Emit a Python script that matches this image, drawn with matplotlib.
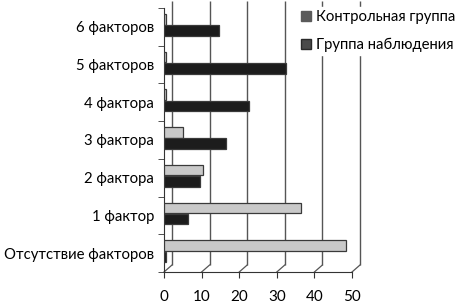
import matplotlib
matplotlib.use("Agg")
import matplotlib.pyplot as plt
from matplotlib.transforms import offset_copy
from matplotlib.patches import Patch
import numpy as np

plt.rcParams['font.family'] = ['Lato', 'DejaVu Sans']

categories = ["Отсутствие факторов", "1 фактор", "2 фактора", "3 фактора",
              "4 фактора", "5 факторов", "6 факторов"]
control = [48.5, 36.5, 10.5, 5, 0.4, 0.4, 0.4]
observed = [0.6, 6.5, 9.5, 16.5, 22.5, 32.5, 14.5]
series_names = ["Контрольная группа", "Группа наблюдения"]
xticks = [0, 10, 20, 30, 40, 50]

fig = plt.figure(figsize=(4.58, 3.03), dpi=100)
ax = fig.add_axes([164/458, 1 - 272/303, (352-164)/458, (272-8)/303])
ax.set_xlim(0, 50)
ax.set_ylim(-0.5, len(categories) - 0.5)

y = np.arange(len(categories))
h = 0.28
ax.barh(y + 0.2, control, height=h, color='#c9c9c9', edgecolor='#3a3a3a', linewidth=0.9, zorder=3)
ax.barh(y - 0.1, observed, height=h, color='#1c1c1c', edgecolor='#3a3a3a', linewidth=0.9, zorder=3)

# back-wall gridlines (3D offset)
back = offset_copy(ax.transData, fig=fig, x=8, y=7, units='dots')
ax.vlines(xticks, -0.5, len(categories) - 0.5, colors='#555555', linewidth=1.0,
          transform=back, zorder=1, clip_on=False)
# floor slants
for xv in xticks:
    p0 = ax.transData.transform((xv, -0.5))
    p1 = p0 + np.array([8, 7])
    ax.plot([p0[0], p1[0]], [p0[1], p1[1]], transform=None, color='#555555',
            linewidth=0.9, clip_on=False, zorder=1)

ax.set_yticks(y)
ax.set_yticklabels(categories, fontsize=10.7)
ax.set_xticks(xticks)
ax.set_xticklabels([str(t) for t in xticks], fontsize=11)
ax.tick_params(axis='y', length=4, color='#333333', pad=7)
ax.tick_params(axis='x', length=4, color='#333333', pad=9)
ax.set_yticks(np.arange(-0.5, len(categories), 1), minor=True)
ax.tick_params(axis='y', which='major', length=0)
ax.tick_params(axis='y', which='minor', length=4, color='#333333')
for s in ['top', 'right']:
    ax.spines[s].set_visible(False)
ax.spines['left'].set_color('#333333')
ax.spines['bottom'].set_color('#333333')

handles = [Patch(facecolor='#5a5a5a', edgecolor='#5a5a5a'),
           Patch(facecolor='#4a4a4a', edgecolor='#2a2a2a')]
leg = fig.legend(handles, series_names, loc='upper left', bbox_to_anchor=(298/458, 1 - 7/303),
                 frameon=True, edgecolor='white', facecolor='white', framealpha=1,
                 fontsize=10.7, handlelength=0.7, handleheight=0.7, handletextpad=0.3,
                 labelspacing=0.95, borderpad=0.2, borderaxespad=0)
leg.set_zorder(10)

fig.savefig("out.png", dpi=100)
